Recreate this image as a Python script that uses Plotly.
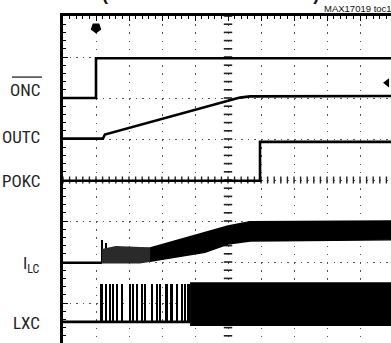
import numpy as np
import plotly.graph_objects as go

# ---- data (scope divisions: x = time div, y = vertical div from bottom) ----
onc_t = [0, 1.0, 1.0, 9.94]
onc_v = [6.0, 6.0, 6.97, 6.97]

outc_t = [0, 1.21, 1.27, 2.85, 5.0, 5.36, 5.67, 9.94]
outc_v = [5.01, 5.01, 5.11, 5.46, 5.94, 6.01, 6.04, 6.05]

pokc_t = [0, 5.97, 5.97, 9.94]
pokc_v = [3.98, 3.98, 4.93, 4.93]

ilc_base_t = [0, 1.18]
ilc_base_v = [1.98, 1.98]
# early (sparse switching) part of the inductor-current envelope
ilc_env1_t = [1.18, 1.60, 2.33, 2.64]
ilc_hi1 = [2.30, 2.37, 2.35, 2.34]
ilc_lo1 = [1.98, 1.98, 1.98, 2.02]
# continuous-switching part
ilc_env2_t = [2.64, 4.30, 5.0, 5.67, 9.94]
ilc_hi2 = [2.34, 2.73, 2.88, 2.98, 3.0]
ilc_lo2 = [2.02, 2.24, 2.44, 2.51, 2.54]
ilc_spike_t = [1.19, 1.30]
ilc_spike_v = [2.54, 2.46]

lxc_base_t = [0, 3.85]
lxc_low = 0.54
lxc_high = 1.46
lxc_pulse_t = [1.17, 1.30, 1.42, 1.52, 1.63, 1.78, 2.03, 2.13, 2.25, 2.39,
               2.49, 2.69, 2.84, 2.94, 3.14, 3.29, 3.45, 3.60, 3.70, 3.80]
lxc_band_t = [3.85, 9.94]
lxc_band_hi = 1.49
lxc_band_lo = 0.46

labels = ["ONC", "OUTC", "POKC", "I<sub>LC</sub>", "LXC"]
label_y = [6.2, 5.04, 3.98, 1.93, 0.51]

trig_t, trig_v = 1.0, 7.71
ref_t, ref_v = 9.82, 6.37

X_RANGE = [0, 328 / 33]
Y_RANGE = [1 / 41, 8]

LW = 2.6
INK = "black"

fig = go.Figure()

def line(x, y, w=LW):
    fig.add_trace(go.Scatter(x=x, y=y, mode="lines",
                             line=dict(color=INK, width=w), hoverinfo="skip"))

def band(t, hi, lo, color):
    fig.add_trace(go.Scatter(x=t + t[::-1], y=hi + lo[::-1],
                             fill="toself", fillcolor=color, mode="lines",
                             line=dict(color=color, width=1.5), hoverinfo="skip"))

# centre graticule ticks
cy = np.arange(0, 8.01, 0.2)
fig.add_trace(go.Scatter(x=[5] * len(cy), y=cy, mode="markers",
                         marker=dict(symbol="line-ew", size=6,
                                     line=dict(color="#222", width=1.6)),
                         hoverinfo="skip"))
cx = np.arange(0, 10.01, 0.2)
fig.add_trace(go.Scatter(x=cx, y=[4] * len(cx), mode="markers",
                         marker=dict(symbol="line-ns", size=5,
                                     line=dict(color="#222", width=1.4)),
                         hoverinfo="skip"))

line(onc_t, onc_v)
line(outc_t, outc_v)
line(pokc_t, pokc_v)

# I_LC
line(ilc_base_t, ilc_base_v)
band(ilc_env1_t, ilc_hi1, ilc_lo1, "#2a2a2a")
band(ilc_env2_t, ilc_hi2, ilc_lo2, INK)
fig.add_trace(go.Bar(x=ilc_spike_t, y=[v - ilc_base_v[0] for v in ilc_spike_v],
                     base=ilc_base_v[0], width=0.05, marker_color=INK,
                     marker_line_width=0, hoverinfo="skip"))

# LXC
line(lxc_base_t, [lxc_low, lxc_low])
fig.add_trace(go.Bar(x=lxc_pulse_t, y=[lxc_high - lxc_low] * len(lxc_pulse_t),
                     base=lxc_low, width=0.07, marker_color=INK,
                     marker_line_width=0, hoverinfo="skip"))
band(lxc_band_t, [lxc_band_hi] * 2, [lxc_band_lo] * 2, INK)

# trigger & reference markers
fig.add_trace(go.Scatter(x=[trig_t], y=[trig_v], mode="markers",
                         marker=dict(symbol="pentagon", angle=180, size=11, color=INK),
                         hoverinfo="skip"))
fig.add_trace(go.Scatter(x=[ref_t], y=[ref_v], mode="markers",
                         marker=dict(symbol="triangle-left", size=8, color=INK),
                         hoverinfo="skip"))

LABEL_FONT = "Liberation Sans Narrow, Arial Narrow, Roboto Condensed, Roboto, sans-serif"
for txt, yv in zip(labels, label_y):
    fig.add_annotation(x=(42 - 63) / 328, xref="paper", y=yv, yref="y",
                       text=txt, showarrow=False, xanchor="right", yanchor="middle",
                       font=dict(family=LABEL_FONT, size=17, color="#222"))

# overline on ONC
fig.add_shape(type="line", xref="paper", yref="y",
              x0=(12 - 63) / 328, x1=(42 - 63) / 328, y0=6.51, y1=6.51,
              line=dict(color="#222", width=1.3))

fig.add_annotation(x=(322 - 63) / 328, xref="paper", y=(343 - 8) / 327, yref="paper",
                   text="MAX17019 toc12", showarrow=False, xanchor="left",
                   yanchor="middle",
                   font=dict(family="Liberation Sans, Arial, sans-serif", size=9.5,
                             color="#111"))

# title (only the bottom of the parentheses is visible)
fig.add_annotation(x=(210.5 - 63) / 328, xref="paper", y=(343 - 5.5) / 327, yref="paper",
                   text="<b>(HEAVY-LOAD STARTUP)</b>", showarrow=False,
                   xanchor="center", yanchor="bottom",
                   font=dict(family="Liberation Sans, Arial, sans-serif", size=18,
                             color="#111"))

fig.update_xaxes(range=X_RANGE, side="top", dtick=1, tick0=0,
                 showgrid=True, gridcolor="#555", gridwidth=1.4,
                 griddash="1.5px,6.7px", zeroline=False,
                 showline=True, linecolor=INK, linewidth=2.5,
                 ticks="inside", ticklen=5, tickcolor=INK, tickwidth=1.3,
                 minor=dict(dtick=0.2, ticks="inside", ticklen=3,
                            tickcolor=INK, tickwidth=1.2, showgrid=False),
                 showticklabels=False, fixedrange=True)
fig.update_yaxes(range=Y_RANGE, dtick=1, tick0=0,
                 showgrid=True, gridcolor="#555", gridwidth=1.4,
                 griddash="1.5px,5.1px", zeroline=False,
                 showline=True, linecolor=INK, linewidth=3,
                 ticks="inside", ticklen=5, tickcolor=INK, tickwidth=1.3,
                 minor=dict(dtick=0.2, ticks="inside", ticklen=3,
                            tickcolor=INK, tickwidth=1.2, showgrid=False),
                 showticklabels=False, fixedrange=True)

fig.update_layout(width=391, height=343,
                  margin=dict(l=63, r=0, t=16, b=0, pad=0),
                  plot_bgcolor="white", paper_bgcolor="white",
                  showlegend=False, barmode="overlay", bargap=0)

fig.write_html("out.html", config={"displayModeBar": False})
